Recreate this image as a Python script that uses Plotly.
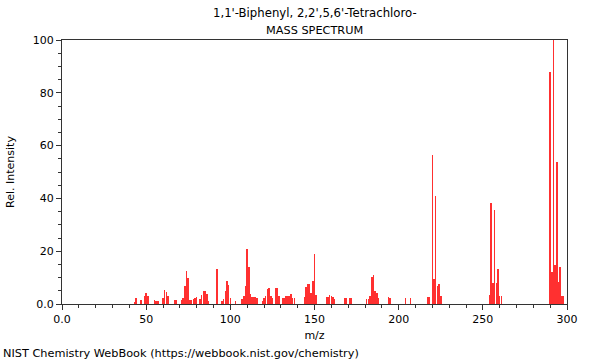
import plotly.graph_objects as go

# m/z values and relative intensities
mz = [43, 44, 47, 49, 50, 51, 55, 56, 57, 60, 61, 62, 63, 67, 68, 71, 72, 73, 74, 75,
      76, 77, 78, 79, 80, 82, 83, 84, 85, 86, 87, 92, 95, 96, 97, 98, 99, 100, 103,
      107, 108, 109, 110, 111, 112, 113, 114, 115, 116, 119, 120, 121, 122, 123, 124,
      125, 127, 128, 129, 131, 132, 133, 134, 135, 136, 137, 138, 144, 145, 146, 147,
      148, 149, 150, 151, 157, 158, 159, 160, 161, 162, 168, 169, 171, 172, 181, 182,
      183, 184, 185, 186, 187, 188, 194, 195, 204, 207, 217, 218, 220, 221, 222, 223,
      224, 225, 254, 255, 256, 257, 258, 259, 260, 261, 290, 291, 292, 293, 294, 295,
      296, 297, 298]
intensity = [0.9, 2.1, 1.6, 2.9, 4.0, 2.9, 1.6, 1.0, 1.0, 2.1, 5.3, 4.5, 2.9, 1.5, 1.5,
             1.5, 2.3, 6.7, 12.4, 9.7, 1.4, 1.5, 1.8, 2.4, 2.5, 1.8, 3.5, 5.0, 5.0, 3.8,
             1.3, 13.3, 1.3, 1.8, 5.0, 8.9, 7.1, 2.3, 1.3, 2.0, 3.2, 6.9, 20.9, 13.9, 3.8,
             2.5, 2.5, 2.5, 2.4, 1.1, 2.4, 3.2, 5.6, 6.2, 3.2, 2.4, 6.2, 6.2, 3.2, 2.4,
             2.4, 3.2, 3.2, 3.2, 3.8, 2.4, 2.4, 2.5, 6.3, 7.6, 7.6, 4.3, 8.9, 19.0, 3.5,
             2.5, 2.5, 3.5, 3.2, 2.5, 2.0, 2.2, 2.2, 2.2, 2.2, 2.0, 2.0, 2.9, 10.1, 11.1,
             4.8, 4.2, 2.3, 2.8, 2.3, 2.4, 2.4, 2.5, 2.5, 56.3, 9.5, 41.1, 6.8, 7.6, 3.2,
             3.5, 38.2, 8.1, 35.7, 8.1, 13.3, 3.2, 3.2, 87.7, 12.0, 100, 14.6, 53.8, 8.2,
             13.9, 3.2, 3.2]

x_tickvals = [0, 50, 100, 150, 200, 250, 300]
x_ticktext = ["0.0", "50", "100", "150", "200", "250", "300"]
y_tickvals = [0, 20, 40, 60, 80, 100]
y_ticktext = ["0.0", "20", "40", "60", "80", "100"]

title_lines = ["1,1'-Biphenyl, 2,2',5,6'-Tetrachloro-", "MASS SPECTRUM"]
footer = "NIST Chemistry WebBook (https://webbook.nist.gov/chemistry)"

FONT = "DejaVu Sans"
AXIS_COLOR = "#333333"

fig = go.Figure()
fig.add_trace(go.Bar(x=mz, y=intensity, width=0.34,
                     marker=dict(color="#ff3030", line=dict(width=0))))

fig.update_layout(
    width=600, height=360,
    margin=dict(l=62, r=33, t=40, b=56, autoexpand=False),
    paper_bgcolor="white", plot_bgcolor="white",
    showlegend=False,
    font=dict(family=FONT, size=11, color="black"),
    bargap=0,
)
fig.update_xaxes(
    range=[0, 300], tickvals=x_tickvals, ticktext=x_ticktext,
    ticks="outside", ticklen=5, tickcolor=AXIS_COLOR,
    minor=dict(dtick=10, tick0=0, ticks="outside", ticklen=3, tickcolor=AXIS_COLOR),
    showline=True, linecolor=AXIS_COLOR, linewidth=1, mirror=True,
    showgrid=False, zeroline=False, automargin=False,
    title=dict(text="m/z", font=dict(size=11), standoff=6),
    tickfont=dict(size=11),
)
fig.update_yaxes(
    range=[0, 100], tickvals=y_tickvals, ticktext=y_ticktext,
    ticks="outside", ticklen=5, tickcolor=AXIS_COLOR,
    minor=dict(dtick=5, tick0=0, ticks="outside", ticklen=3, tickcolor=AXIS_COLOR),
    showline=True, linecolor=AXIS_COLOR, linewidth=1, mirror=True,
    showgrid=False, zeroline=False, automargin=False,
    title=dict(text="Rel. Intensity", font=dict(size=11), standoff=15),
    tickfont=dict(size=11),
)

fig.add_annotation(text=title_lines[0], xref="paper", yref="paper", x=0.5, y=1,
                   yshift=18, showarrow=False, font=dict(size=11.7),
                   xanchor="center", yanchor="bottom")
fig.add_annotation(text=title_lines[1], xref="paper", yref="paper", x=0.5, y=1,
                   yshift=1, showarrow=False, font=dict(size=11.3),
                   xanchor="center", yanchor="bottom")
fig.add_annotation(text=footer, xref="paper", yref="paper", x=0, y=0,
                   xshift=-61, yshift=-58, showarrow=False, font=dict(size=11.3),
                   xanchor="left", yanchor="bottom")

fig.write_html("out.html", config={"displayModeBar": False},
               post_script="document.body.style.margin='0';document.body.style.overflow='hidden';")
